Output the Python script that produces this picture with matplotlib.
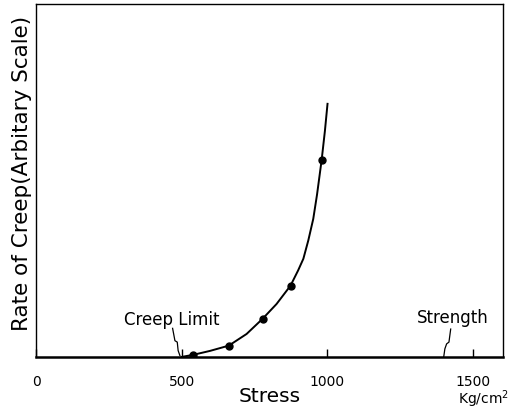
import matplotlib.pyplot as plt
import numpy as np

# measured points (stress in kg/cm2, creep rate on an arbitrary 0-100 scale)
stress_pts = [540, 662, 778, 874, 981]
rate_pts = [0.6, 3.2, 10.8, 20.2, 55.9]

# points
curve_x = [500, 540, 597, 662, 723, 778, 826, 874, 900, 918, 935, 952, 965, 981, 992, 1001]
curve_y = [0.0, 0.6, 1.7, 3.2, 6.5, 10.8, 15.0, 20.2, 24.5, 27.8, 33.0, 39.1, 46.0, 55.9, 64.0, 71.7]

xticks = [0, 500, 1000, 1500]
creep_limit = 500
strength = 1400

FONT = "DejaVu Sans"

fig = plt.figure(figsize=(5.11, 4.10), dpi=100)
ax = fig.add_axes([0.0705, 0.127, 0.9135, 0.861])

ax.plot(curve_x, curve_y, color="black", linewidth=1.4)
ax.plot(stress_pts, rate_pts, "o", color="black", markersize=5)

# leader lines (zig-zag) from labels down to the axis
lx = np.array([-31, -23, -15, -12, -6]) + creep_limit
ly = [8.1, 4.6, 4.2, 1.8, 0.4]
ax.plot(lx, ly, color="black", linewidth=0.9)
sx = np.array([24, 18, 10, 4, 0]) + strength
sy = [7.9, 4.2, 3.7, 2.3, 0.0]
ax.plot(sx, sy, color="black", linewidth=0.9)

ax.text(creep_limit - 33, 10.8, "Creep Limit", ha="center", va="center",
        fontsize=12, family=FONT)
ax.text(strength + 31, 11.3, "Strength", ha="center", va="center",
        fontsize=12, family=FONT)

ax.set_xlim(0, 1603)
ax.set_ylim(0, 100)
ax.set_xticks(xticks)
ax.set_xticklabels([str(t) for t in xticks], family=FONT, fontsize=10)
ax.set_yticks([])
ax.tick_params(axis="x", direction="in", length=6, width=1.0, pad=12)

for name, sp in ax.spines.items():
    sp.set_linewidth(1.0)
ax.spines["bottom"].set_linewidth(1.8)

ax.set_xlabel("Stress", family=FONT, fontsize=14.5, labelpad=-1)
ax.set_ylabel("Rate of Creep(Arbitary Scale)", family=FONT, fontsize=15.5)
ax.yaxis.set_label_coords(-0.008, 0.524)
ax.text(1449, -11.6, "Kg/cm$^2$", ha="left", va="center", family=FONT,
        fontsize=10, clip_on=False)

fig.savefig("out.png", dpi=100)
